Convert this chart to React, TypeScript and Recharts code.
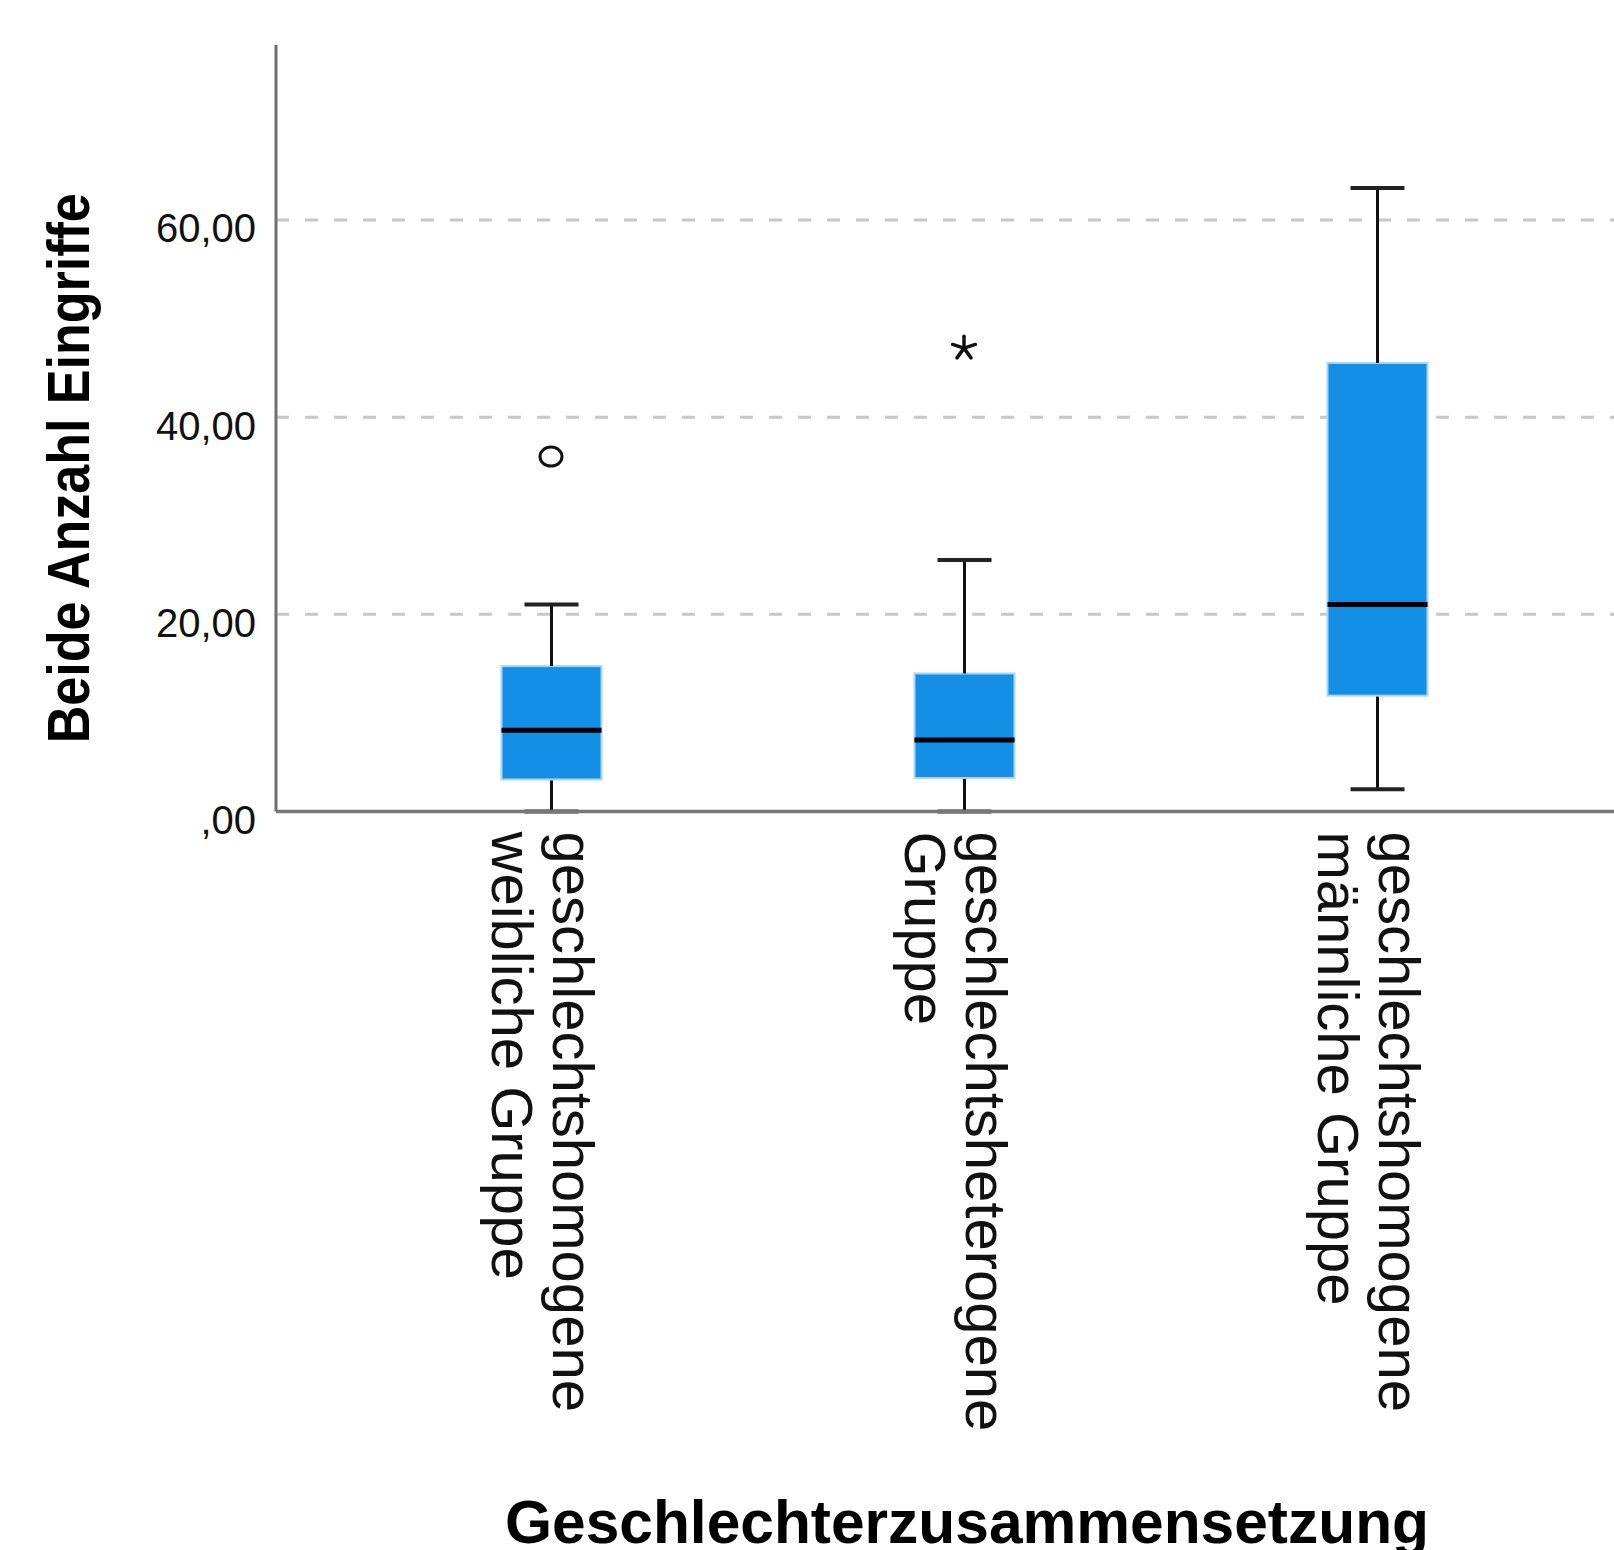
import React from 'react';
import {
  ComposedChart,
  Bar,
  Scatter,
  XAxis,
  YAxis,
  CartesianGrid,
  Label,
} from 'recharts';

// Kategorien (zweizeilige Beschriftung)
const categoryKeys = ['weiblich', 'heterogen', 'maennlich'];
const categoryLines = [
  ['geschlechtshomogene', 'weibliche Gruppe'],
  ['geschlechtsheterogene', 'Gruppe'],
  ['geschlechtshomogene', 'männliche Gruppe'],
];

// Boxplot-Kennwerte
const minValues = [0, 0, 2.25];
const q1Values = [3.25, 3.4, 11.75];
const medianValues = [8.25, 7.25, 21];
const q3Values = [14.75, 14, 45.5];
const maxValues = [21, 25.5, 63.25];

// Ausreißer: Kreis = Ausreißer, Stern = Extremwert
const outlierValues = [36, 47, null];
const outlierMarks = ['circle', 'star', null];

const yTicks = [0, 20, 40, 60];
const yTickLabels = [',00', '20,00', '40,00', '60,00'];

const FONT = '"Liberation Sans", Arial, sans-serif';
const BOX_FILL = '#138fe6';
const BOX_EDGE = '#a9d5f7';
const CAP = 54;

const data = categoryKeys.map((name, i) => ({
  name,
  base: minValues[i],
  lowWhisker: q1Values[i] - minValues[i],
  lowBox: medianValues[i] - q1Values[i],
  highBox: q3Values[i] - medianValues[i],
  highWhisker: maxValues[i] - q3Values[i],
  outlier: outlierValues[i],
  mark: outlierMarks[i],
}));

const LowWhisker = (props: any) => {
  const { x, y, width, height } = props;
  const cx = x + width / 2;
  return (
    <g>
      <line x1={cx} x2={cx} y1={y} y2={y + height} stroke="#111" strokeWidth={3} />
      <line x1={cx - CAP / 2} x2={cx + CAP / 2} y1={y + height} y2={y + height} stroke="#222" strokeWidth={4} />
    </g>
  );
};

const HighWhisker = (props: any) => {
  const { x, y, width, height } = props;
  const cx = x + width / 2;
  return (
    <g>
      <line x1={cx} x2={cx} y1={y} y2={y + height} stroke="#111" strokeWidth={3} />
      <line x1={cx - CAP / 2} x2={cx + CAP / 2} y1={y} y2={y} stroke="#222" strokeWidth={4} />
    </g>
  );
};

const LowBox = (props: any) => {
  const { x, y, width, height } = props;
  return <rect x={x} y={y} width={width} height={height} fill={BOX_FILL} stroke={BOX_EDGE} strokeWidth={2} />;
};

const HighBox = (props: any) => {
  const { x, y, width, height } = props;
  return (
    <g>
      <rect x={x} y={y} width={width} height={height} fill={BOX_FILL} stroke={BOX_EDGE} strokeWidth={2} />
      <line x1={x} x2={x + width} y1={y + height} y2={y + height} stroke="#000" strokeWidth={5} />
    </g>
  );
};

const OutlierShape = (props: any) => {
  const { cx, cy, payload } = props;
  if (!payload || payload.outlier == null || !Number.isFinite(cy)) return null;
  if (payload.mark === 'circle') {
    return <ellipse cx={cx} cy={cy} rx={11} ry={9.5} fill="none" stroke="#111" strokeWidth={3} />;
  }
  const r = 12;
  const arms = [-90, -18, 54, 126, 198];
  return (
    <g stroke="#111" strokeWidth={3.5} strokeLinecap="round">
      {arms.map((a) => (
        <line
          key={a}
          x1={cx}
          y1={cy}
          x2={cx + r * Math.cos((a * Math.PI) / 180)}
          y2={cy + r * Math.sin((a * Math.PI) / 180)}
        />
      ))}
    </g>
  );
};

const CategoryTick = (props: any) => {
  const { x, y, payload } = props;
  const lines = categoryLines[categoryKeys.indexOf(payload.value)] || [];
  return (
    <g transform={`translate(${x},${y}) rotate(90)`}>
      <text x={20} y={-2} fontSize={58} fontFamily={FONT} fill="#111">{lines[0]}</text>
      <text x={20} y={59} fontSize={58} fontFamily={FONT} fill="#111">{lines[1]}</text>
    </g>
  );
};

const ValueTick = (props: any) => {
  const { x, y, payload } = props;
  const label = yTickLabels[yTicks.indexOf(payload.value)];
  return (
    <text x={x} y={y + 22.5} textAnchor="end" fontSize={40} fontFamily={FONT} fill="#111">
      {label}
    </text>
  );
};

export default function App() {
  return (
    <div style={{ position: 'absolute', left: 0, top: 0, background: '#fff' }}>
      <ComposedChart
        width={1614}
        height={1550}
        data={data}
        margin={{ top: 45, right: 0, bottom: 0, left: 0 }}
      >
        <CartesianGrid
          vertical={false}
          horizontalValues={yTicks}
          stroke="#c8c8c8"
          strokeWidth={3}
          strokeDasharray="13 16"
        />
        <XAxis
          dataKey="name"
          height={738.5}
          padding={{ left: 68.5, right: 30.5 }}
          tickLine={false}
          tickSize={0}
          tickMargin={0}
          interval={0}
          axisLine={{ stroke: '#777', strokeWidth: 3.5 }}
          tick={<CategoryTick />}
        >
          <Label
            content={(p: any) => {
              const vb = p.viewBox || {};
              return (
                <text
                  x={vb.x + vb.width / 2 + 22}
                  y={vb.y + 731.5}
                  textAnchor="middle"
                  fontSize={62}
                  fontWeight="bold"
                  fontFamily={FONT}
                  fill="#000"
                  textLength={924}
                  lengthAdjust="spacingAndGlyphs"
                >
                  Geschlechterzusammensetzung
                </text>
              );
            }}
          />
        </XAxis>
        <YAxis
          width={276}
          domain={[0, 77.75]}
          ticks={yTicks}
          tickLine={false}
          tickSize={0}
          tickMargin={20}
          axisLine={{ stroke: '#707070', strokeWidth: 3 }}
          tick={<ValueTick />}
        >
          <Label
            content={(p: any) => {
              const vb = p.viewBox || {};
              const tx = vb.x + 89;
              const ty = vb.y + vb.height / 2 + 40;
              return (
                <text
                  x={tx}
                  y={ty}
                  transform={`rotate(-90, ${tx}, ${ty})`}
                  textAnchor="middle"
                  fontSize={60}
                  fontWeight="bold"
                  fontFamily={FONT}
                  fill="#000"
                  textLength={550}
                  lengthAdjust="spacingAndGlyphs"
                >
                  Beide Anzahl Eingriffe
                </text>
              );
            }}
          />
        </YAxis>
        <Bar dataKey="base" stackId="box" barSize={100} fill="none" isAnimationActive={false} />
        <Bar dataKey="lowWhisker" stackId="box" barSize={100} shape={<LowWhisker />} isAnimationActive={false} />
        <Bar dataKey="lowBox" stackId="box" barSize={100} shape={<LowBox />} isAnimationActive={false} />
        <Bar dataKey="highBox" stackId="box" barSize={100} shape={<HighBox />} isAnimationActive={false} />
        <Bar dataKey="highWhisker" stackId="box" barSize={100} shape={<HighWhisker />} isAnimationActive={false} />
        <Scatter dataKey="outlier" shape={<OutlierShape />} isAnimationActive={false} />
      </ComposedChart>
    </div>
  );
}
